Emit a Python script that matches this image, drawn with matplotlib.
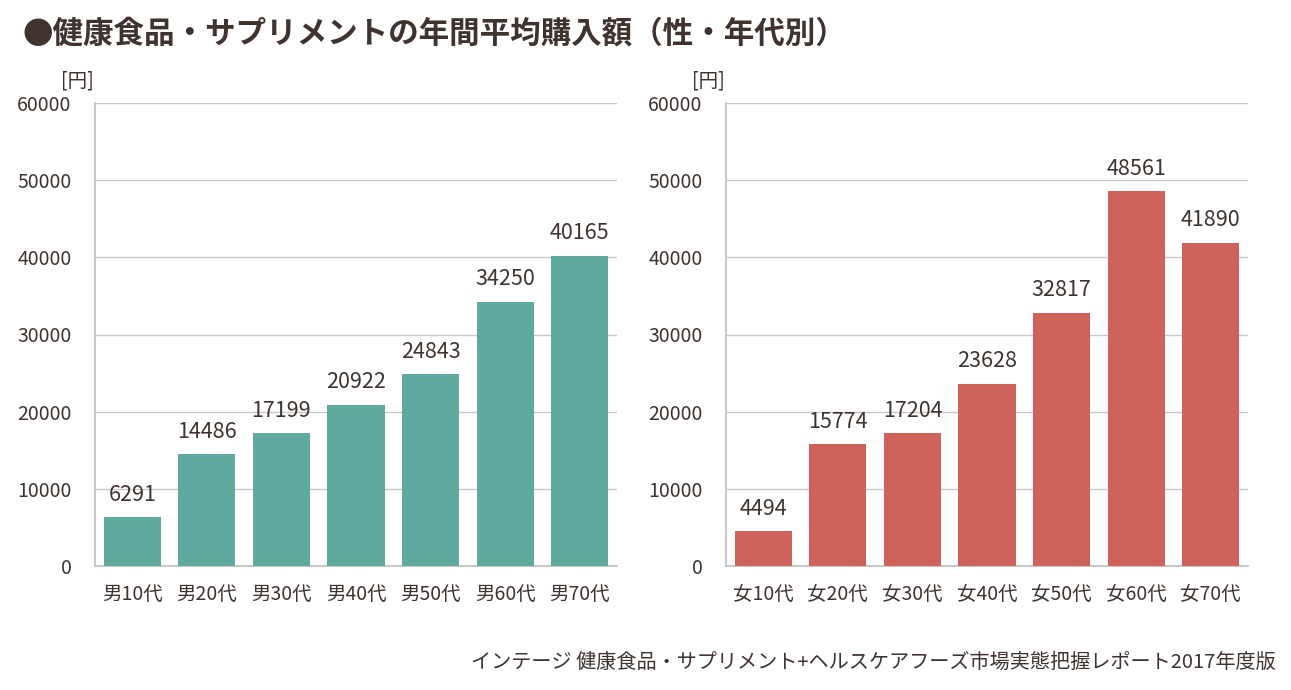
import matplotlib
matplotlib.use("Agg")
import matplotlib.pyplot as plt

plt.rcParams['font.family'] = ['Noto Sans CJK JP', 'DejaVu Sans']

male_labels = ["男10代", "男20代", "男30代", "男40代", "男50代", "男60代", "男70代"]
male_values = [6291, 14486, 17199, 20922, 24843, 34250, 40165]
female_labels = ["女10代", "女20代", "女30代", "女40代", "女50代", "女60代", "女70代"]
female_values = [4494, 15774, 17204, 23628, 32817, 48561, 41890]
yticks = [0, 10000, 20000, 30000, 40000, 50000, 60000]

text_col = "#3f3330"
grid_col = "#c8c8c8"

fig = plt.figure(figsize=(12.91, 6.9), dpi=100)

W, H = 1291, 690


def panel(left_px, labels, values, color):
    ax = fig.add_axes([left_px / W, (H - 566) / H, 522 / W, 463 / H])
    x = range(len(values))
    ax.bar(x, values, width=0.765, color=color, zorder=3)
    ax.set_xlim(-0.5, len(values) - 0.5)
    ax.set_ylim(0, 60000)
    ax.set_yticks(yticks)
    ax.set_yticklabels([str(v) for v in yticks], fontsize=14, color=text_col)
    ax.set_xticks(list(x))
    ax.set_xticklabels(labels, fontsize=14, color=text_col)
    ax.tick_params(axis="both", length=0)
    ax.tick_params(axis="y", pad=17)
    ax.tick_params(axis="x", pad=13)
    ax.grid(axis="y", color=grid_col, linewidth=1, zorder=0)
    for s in ["top", "right"]:
        ax.spines[s].set_visible(False)
    for s in ["left", "bottom"]:
        ax.spines[s].set_color("#bfbfbf")
        ax.spines[s].set_linewidth(1.2)
    for i, v in enumerate(values):
        ax.text(i, v + 1500, str(v), ha="center", va="bottom",
                fontsize=15.5, color=text_col)
    ax.text(-0.003, 1.025, "[円]", transform=ax.transAxes, ha="right",
            va="bottom", fontsize=14, color=text_col)
    return ax


panel(95, male_labels, male_values, "#5eaa9f")
panel(726, female_labels, female_values, "#cf635b")

fig.text(22 / W, 1 - 33 / H, "●健康食品・サプリメントの年間平均購入額（性・年代別）",
         fontsize=22, fontweight="bold", color=text_col, va="center", ha="left")
fig.text(1276 / W, 1 - 662 / H,
         "インテージ 健康食品・サプリメント+ヘルスケアフーズ市場実態把握レポート2017年度版",
         fontsize=14.5, color=text_col, va="center", ha="right")

fig.savefig("out.png", dpi=100)
